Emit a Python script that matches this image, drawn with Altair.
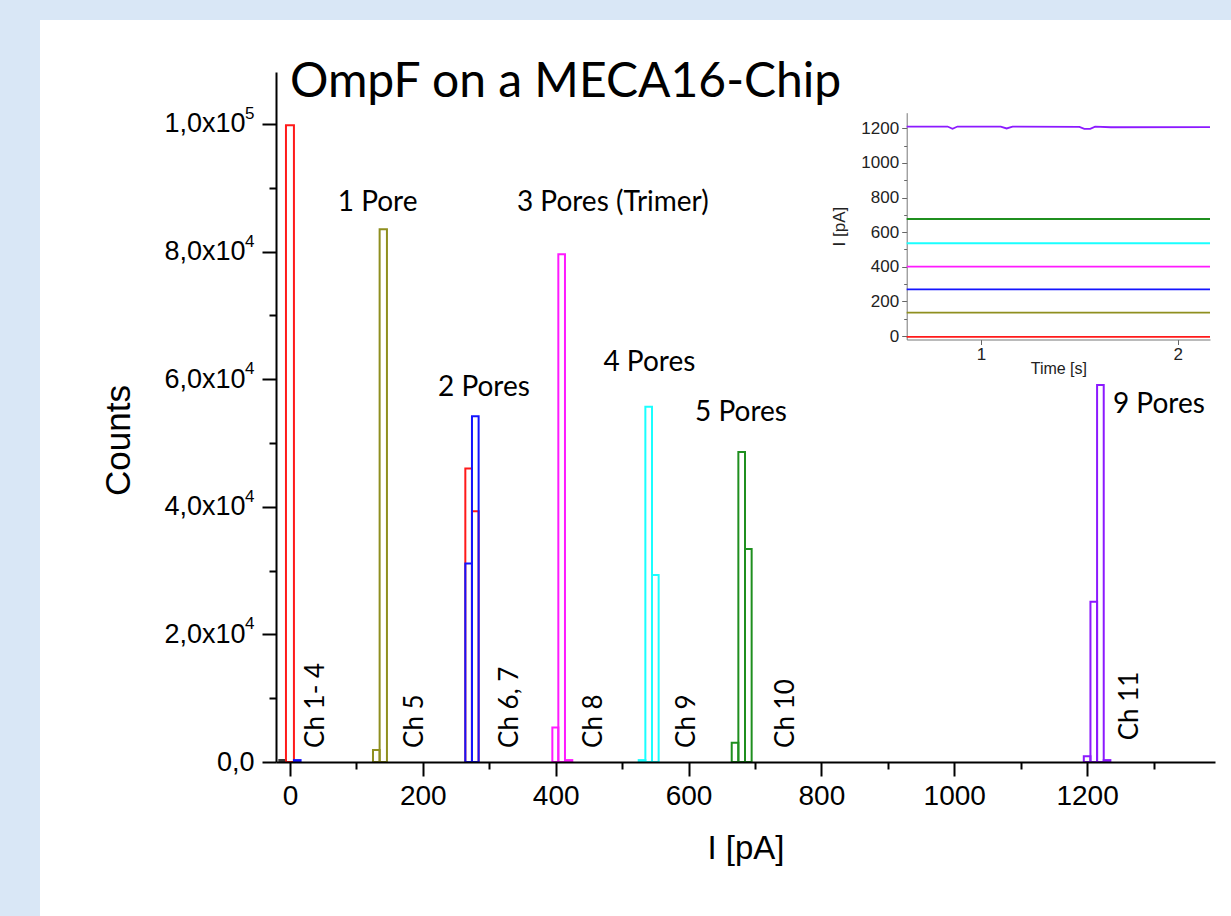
import altair as alt
import pandas as pd

# ---------------- histogram data (I in pA, counts) ----------------
ch14_start = [-16, -6, 6]
ch14_end = [-6, 6, 16]
ch14_count = [300, 99800, 300]
ch14_color = ["#3a3a3a", "#FF1A1A", "#1414FF"]

ch5_start = [125, 135]
ch5_end = [135, 146]
ch5_count = [1900, 83500]

ch6_start = [264, 274]
ch6_end = [274, 284]
ch6_count = [46000, 39300]

ch7_start = [264, 274]
ch7_end = [274, 284]
ch7_count = [31100, 54200]

ch8_start = [395, 404, 414]
ch8_end = [404, 414, 425]
ch8_count = [5400, 79600, 300]

ch9_start = [525, 535, 545]
ch9_end = [535, 545, 555]
ch9_count = [300, 55700, 29300]

ch10_start = [665, 675, 685]
ch10_end = [675, 685, 695]
ch10_count = [3000, 48600, 33400]

ch11_start = [1195, 1205, 1215, 1225]
ch11_end = [1205, 1215, 1225, 1235]
ch11_count = [900, 25100, 59100, 300]

colors = {
    "olive": "#8F8F1F",
    "red": "#FF1A1A",
    "blue": "#1414FF",
    "magenta": "#FF1AFF",
    "cyan": "#1AFFFF",
    "green": "#1F8F1F",
    "purple": "#8C1AFF",
}

rows = []
for s, e, c, col in zip(ch14_start, ch14_end, ch14_count, ch14_color):
    rows.append(dict(start=s, end=e, count=c, color=col))
for starts, ends, counts, col in [
    (ch5_start, ch5_end, ch5_count, colors["olive"]),
    (ch6_start, ch6_end, ch6_count, colors["red"]),
    (ch7_start, ch7_end, ch7_count, colors["blue"]),
    (ch8_start, ch8_end, ch8_count, colors["magenta"]),
    (ch9_start, ch9_end, ch9_count, colors["cyan"]),
    (ch10_start, ch10_end, ch10_count, colors["green"]),
    (ch11_start, ch11_end, ch11_count, colors["purple"]),
]:
    for s, e, c in zip(starts, ends, counts):
        rows.append(dict(start=s, end=e, count=c, color=col))
hist = pd.DataFrame(rows)
hist["order"] = range(len(hist))

# ---------------- annotations ----------------
ann_text = ["1 Pore", "2 Pores", "3 Pores (Trimer)", "4 Pores", "5 Pores", "9 Pores"]
ann_x = [132, 292, 486, 541, 679, 1308]
ann_y = [87600, 58600, 87600, 62500, 54700, 56000]

ch_text = ["Ch 1- 4", "Ch 5", "Ch 6, 7", "Ch 8", "Ch 9", "Ch 10", "Ch 11"]
ch_x = [39, 188, 331, 457, 598, 746, 1265]
ch_y = [2200, 2200, 2200, 2200, 2200, 2200, 3400]

title_text = ["OmpF on a MECA16-Chip"]
title_x = [0]
title_y = [104200]

# y tick label exponents (superscripts)
sup_vals = [20000, 40000, 60000, 80000, 100000]
sup_text = ["4", "4", "4", "4", "5"]

# ---------------- inset traces (time in s, I in pA) ----------------
tr_names = ["red", "olive", "blue", "magenta", "cyan", "green"]
tr_levels = [-5, 135, 270, 401, 536, 676]
tr_t = [0.622, 2.164]

purple_t = [0.622, 0.83, 0.855, 0.88, 1.10, 1.13, 1.16, 1.50, 1.525, 1.555, 1.58, 1.66, 2.164]
purple_I = [1210, 1210, 1197, 1210, 1210, 1199, 1210, 1208, 1197, 1197, 1209, 1206, 1207]

tr_rows = []
for name, lev in zip(tr_names, tr_levels):
    for t in tr_t:
        tr_rows.append(dict(t=t, I=lev, trace=name, color=colors[name]))
for t, v in zip(purple_t, purple_I):
    tr_rows.append(dict(t=t, I=v, trace="purple", color=colors["purple"]))
traces = pd.DataFrame(tr_rows)

# ---------------- geometry ----------------
W, H = 939, 690
XDOM = [-21, 1392.5]
YDOM = [0, 108150]
xscale = alt.Scale(domain=XDOM, nice=False, zero=False)
yscale = alt.Scale(domain=YDOM, nice=False, zero=False)

AX = "Liberation Sans"
ANN = "Lato"

ylabel_expr = (
    "datum.value == 0 ? '0,0' : (datum.value % 20000 != 0 ? '' : "
    "(datum.value == 100000 ? '1,0x10' : (datum.value / 10000) + ',0x10'))"
)

x_axis = alt.Axis(
    values=list(range(0, 1400, 100)),
    format="d",
    labelExpr="datum.value % 200 === 0 ? datum.label : ''",
    tickSize={"condition": {"test": "datum.value % 200 === 0", "value": 14}, "value": 7},
    tickWidth=2, tickColor="black", domainColor="black", domainWidth=2,
    labelFont=AX, labelFontSize=28, labelColor="black", labelPadding=6,
    title="I [pA]", titleFont=AX, titleFontSize=33, titleFontWeight="normal",
    titleColor="black", titlePadding=22, grid=False, zindex=1,
)
y_axis = alt.Axis(
    values=list(range(0, 110000, 10000)),
    labelExpr=ylabel_expr,
    tickSize={"condition": {"test": "datum.value % 20000 === 0", "value": 14}, "value": 7},
    tickWidth=2, tickColor="black", domainColor="black", domainWidth=2,
    labelFont=AX, labelFontSize=27, labelColor="black",
    labelPadding={"condition": {"test": "datum.value === 0", "value": 8}, "value": 17},
    title="Counts", titleFont=AX, titleFontSize=35, titleFontWeight="normal",
    titleColor="black", titleX=-158, titleY=368, titleBaseline="middle",
    titleAlign="center", grid=False, zindex=1,
)

BLUE = "#D9E7F6"
strip_left = alt.Chart(alt.Data(values=[{"a": 1}])).mark_rect(fill=BLUE).encode(
    x=alt.value(-276), x2=alt.value(-236), y=alt.value(-72), y2=alt.value(844)
)
strip_top = alt.Chart(alt.Data(values=[{"a": 1}])).mark_rect(fill=BLUE).encode(
    x=alt.value(-236), x2=alt.value(955), y=alt.value(-72), y2=alt.value(-52)
)

bars = alt.Chart(hist).mark_rect(fillOpacity=0, strokeWidth=2).encode(
    x=alt.X("start:Q", scale=xscale, axis=x_axis),
    x2="end:Q",
    y=alt.Y("count:Q", scale=yscale, axis=y_axis),
    y2=alt.datum(0),
    stroke=alt.Stroke("color:N", scale=None),
    order="order:Q",
)

ann_df = pd.DataFrame(dict(text=ann_text, start=ann_x, count=ann_y))
ann = alt.Chart(ann_df).mark_text(font=ANN, fontSize=28, align="center", baseline="middle", color="black").encode(
    x=alt.X("start:Q", scale=xscale, axis=x_axis),
    y=alt.Y("count:Q", scale=yscale, axis=y_axis),
    text="text:N",
)

ch_df = pd.DataFrame(dict(text=ch_text, start=ch_x, count=ch_y))
chl = alt.Chart(ch_df).mark_text(font=ANN, fontSize=26, align="left", baseline="middle", angle=270, color="black").encode(
    x=alt.X("start:Q", scale=xscale, axis=x_axis),
    y=alt.Y("count:Q", scale=yscale, axis=y_axis),
    text="text:N",
)

title_df = pd.DataFrame(dict(text=title_text, start=title_x, count=title_y))
ttl = alt.Chart(title_df).mark_text(font=ANN, fontSize=48, align="left", baseline="alphabetic", color="black").encode(
    x=alt.X("start:Q", scale=xscale, axis=x_axis),
    y=alt.Y("count:Q", scale=yscale, axis=y_axis),
    text="text:N",
)

sup_df = pd.DataFrame(dict(text=sup_text, count=sup_vals))
sup = alt.Chart(sup_df).mark_text(font=AX, fontSize=17, align="left", baseline="middle", dy=-10, color="black").encode(
    x=alt.value(-31),
    y=alt.Y("count:Q", scale=yscale, axis=y_axis),
    text="text:N",
)

main = alt.layer(bars, ann, chl, ttl, sup)

# ---------------- inset ----------------
IX0, IX1 = 630.7, 934.0
IY0, IY1 = 267.5, 40.7
inset = alt.Chart(traces).mark_line(strokeWidth=1.8).encode(
    x=alt.X("t:Q", scale=alt.Scale(domain=[0.622, 2.164], range=[IX0, IX1], nice=False, zero=False),
            axis=alt.Axis(orient="bottom", offset=-(H - IY0), values=[1, 1.5, 2], format="d",
                          labelExpr="datum.value % 1 === 0 ? datum.label : ''",
                          tickSize=5, tickColor="#666", domainColor="#777", domainWidth=1,
                          labelFont=AX, labelFontSize=17, labelColor="#222", labelPadding=2,
                          title="Time [s]", titleFont=AX, titleFontSize=16, titleFontWeight="normal",
                          titleColor="#222", titlePadding=-2, grid=False)),
    y=alt.Y("I:Q", scale=alt.Scale(domain=[-20, 1290], range=[IY0, IY1], nice=False, zero=False),
            axis=alt.Axis(orient="left", offset=-IX0, values=list(range(0, 1300, 100)), format="d",
                          labelExpr="datum.value % 200 === 0 ? datum.label : ''",
                          tickSize={"condition": {"test": "datum.value % 200 === 0", "value": 5}, "value": 3},
                          tickColor="#666", domainColor="#777", domainWidth=1,
                          labelFont=AX, labelFontSize=17, labelColor="#222", labelPadding=3,
                          title="I [pA]", titleFont=AX, titleFontSize=17, titleFontWeight="normal",
                          titleColor="#222", titlePadding=12, grid=False)),
    stroke=alt.Stroke("color:N", scale=None),
    detail="trace:N",
)

chart = alt.layer(strip_left, strip_top, main, inset).resolve_scale(x="independent", y="independent").properties(
    width=W, height=H,
    background="white",
    autosize=alt.AutoSizeParams(type="none"),
    padding={"left": 276, "top": 72, "right": 16, "bottom": 154},
).configure_view(strokeWidth=0)

chart.save("out.html", embed_options={"renderer": "svg", "actions": False})
